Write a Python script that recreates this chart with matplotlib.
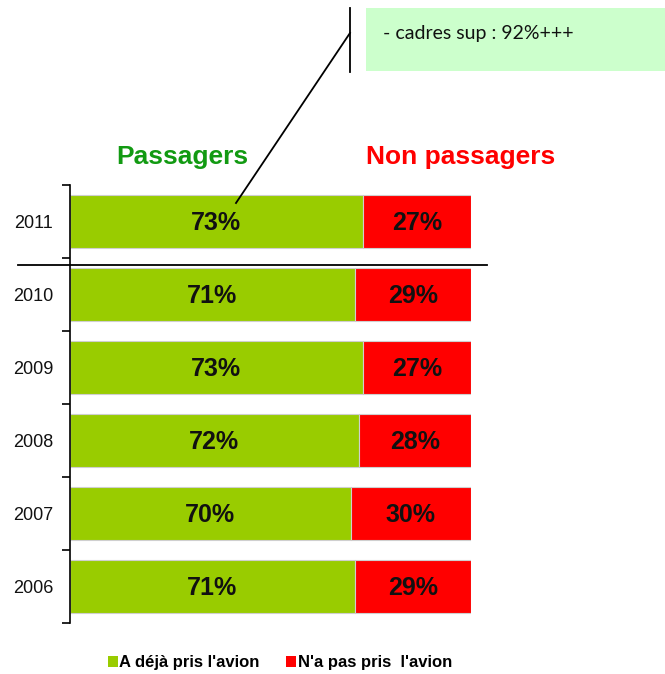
import matplotlib.pyplot as plt
from matplotlib.patches import Patch, Rectangle
from matplotlib.lines import Line2D

years = ["2011", "2010", "2009", "2008", "2007", "2006"]
passagers = [73, 71, 73, 72, 70, 71]
non_passagers = [27, 29, 27, 28, 30, 29]
legend_labels = ["A déjà pris l'avion", "N'a pas pris  l'avion"]
callout_text = "- cadres sup : 92%+++"

GREEN = "#99CC00"
RED = "#FF0000"

W, H = 665, 674
fig = plt.figure(figsize=(W / 100, H / 100), dpi=100)
ax = fig.add_axes([70 / W, 1 - 623 / H, 401 / W, 438 / H])

pos = list(range(len(years)))
ax.barh(pos, passagers, height=0.72, color=GREEN, edgecolor="#cfcfcf", linewidth=0.8)
ax.barh(pos, non_passagers, left=passagers, height=0.72, color=RED,
        edgecolor="#cfcfcf", linewidth=0.8)

num_font = dict(family="Liberation Sans", fontsize=18, fontweight="bold",
                color="#111111", ha="center", va="center")
for i, (p, n) in enumerate(zip(passagers, non_passagers)):
    ax.text(p / 2, i + 0.02, f"{p}%", **num_font)
    ax.text(p + n / 2, i + 0.02, f"{n}%", **num_font)

ax.set_xlim(0, 100)
ax.set_ylim(len(years) - 0.5, -0.5)
ax.set_yticks(pos)
ax.set_yticklabels(years, fontsize=13, family="Liberation Sans", color="#111111")
ax.tick_params(axis="y", length=0, pad=12)
ax.set_yticks([i - 0.5 for i in range(len(years) + 1)], minor=True)
ax.tick_params(axis="y", which="minor", length=6, width=1.2, direction="out")
ax.set_xticks([])
for s in ["top", "right", "bottom"]:
    ax.spines[s].set_visible(False)
ax.spines["left"].set_linewidth(1.2)

# separator between 2011 and earlier years
ax.add_line(Line2D([-13, 104], [0.6, 0.6], color="black", lw=1.3, clip_on=False))

# headers
fig.text(182 / W, 1 - 157 / H, "Passagers", color="#129A12", fontsize=19,
         fontweight="bold", ha="center", va="center", family="Liberation Sans")
fig.text(461 / W, 1 - 157 / H, "Non passagers", color=RED, fontsize=19,
         fontweight="bold", ha="center", va="center", family="Liberation Sans")

# callout
fig.add_artist(Rectangle((366 / W, 1 - 71 / H), 299 / W, 63 / H,
                         transform=fig.transFigure, facecolor="#CCFFCC", edgecolor="none"))
fig.text(383 / W, 1 - 33 / H, callout_text, fontsize=14, family="Lato",
         ha="left", va="center", color="#111111")
fig.add_artist(Line2D([350 / W, 350 / W], [1 - 8 / H, 1 - 72 / H],
                      transform=fig.transFigure, color="black", lw=1.3))
fig.add_artist(Line2D([236 / W, 350 / W], [1 - 203 / H, 1 - 33 / H],
                      transform=fig.transFigure, color="black", lw=1.3))

handles = [Patch(facecolor=GREEN), Patch(facecolor=RED)]
fig.legend(handles, legend_labels, loc="center", bbox_to_anchor=(280 / W, 1 - 663 / H),
           ncol=2, frameon=False, handlelength=0.6, handleheight=0.6, handletextpad=0.1,
           columnspacing=1.6, prop=dict(family="Liberation Sans", weight="bold", size=12))

fig.savefig("out.png", dpi=100)
